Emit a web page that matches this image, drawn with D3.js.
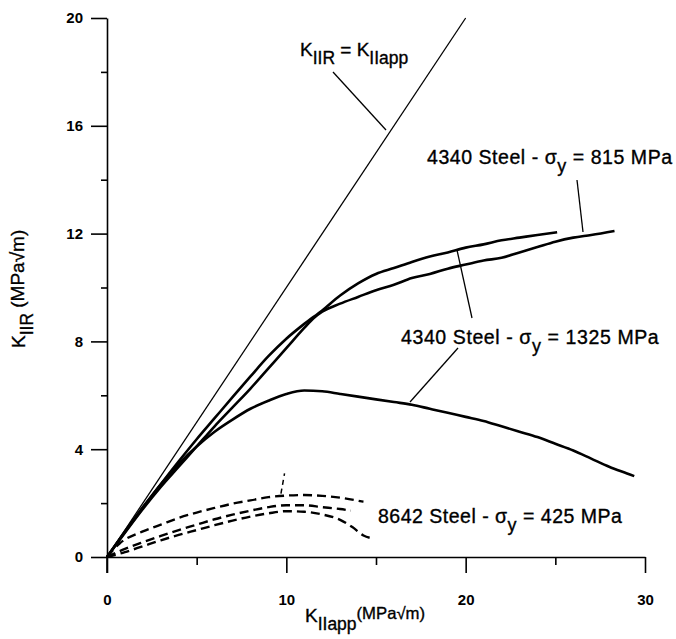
<!DOCTYPE html>
<html><head><meta charset="utf-8">
<script src="https://cdn.jsdelivr.net/npm/d3@7"></script>
<style>
html,body{margin:0;padding:0;background:#fff;}
svg{display:block;}
text{font-family:"Liberation Sans",Arial,Helvetica,sans-serif;fill:#000;}
</style></head>
<body>
<script>
// ---- data ----
const xTicksMajor = [0, 10, 20, 30];
const xTicksMinor = [5, 15, 25];
const yTicksMajor = [0, 4, 8, 12, 16, 20];
const yTicksMinor = [2, 6, 10, 14, 18];

const equalityLine = [[0, 0], [20, 20]];

const steel4340_815 = [[0,0],[1,0.9],[2,1.78],[3,2.6],[4,3.35],[5,4.1],[6,4.85],[7,5.55],[8,6.25],[9,7.0],[10,7.75],[11,8.5],[11.5,8.85],[12,9.1],[13,9.4],[14,9.65],[15,9.9],[16,10.1],[17,10.35],[18,10.5],[19,10.7],[20,10.85],[21,11.0],[22,11.1],[23,11.3],[24,11.5],[25,11.7],[26,11.85],[27,11.95],[28.3,12.1]];

const steel4340_1325a = [[0,0],[1,0.93],[2,1.82],[3,2.7],[4,3.55],[5,4.37],[6,5.15],[7,5.93],[8,6.7],[9,7.45],[10,8.1],[11,8.65],[12,9.15],[13,9.7],[14,10.15],[15,10.5],[16,10.72],[17,10.95],[18,11.15],[19,11.3],[20,11.48],[21,11.6],[22,11.75],[23,11.85],[24,11.95],[25.1,12.05]];

const steel4340_1325b = [[0,0],[1,0.95],[2,1.85],[3,2.7],[4,3.45],[5,4.1],[6,4.65],[7,5.1],[8,5.5],[9,5.8],[10,6.05],[11,6.18],[12,6.15],[13,6.05],[14,5.95],[15,5.85],[16,5.75],[17,5.65],[18,5.5],[19,5.35],[20,5.2],[21,5.05],[22,4.85],[23,4.65],[24,4.45],[25,4.2],[26,3.95],[27,3.65],[28,3.35],[29,3.1],[29.4,3.0]];

const steel8642_a = [[0,0],[0.7,0.5],[2,0.95],[3,1.2],[4,1.45],[5,1.65],[6,1.82],[7,1.98],[8,2.1],[9,2.22],[10,2.28],[11,2.3],[12,2.27],[13,2.2],[14.3,2.05]];
const steel8642_b = [[0,0],[1,0.3],[2,0.55],[3,0.78],[4,1.0],[5,1.2],[6,1.4],[7,1.57],[8,1.72],[9,1.85],[10,1.92],[11,1.92],[12,1.85],[13,1.78],[13.6,1.72]];
const steel8642_c = [[0,0],[1,0.18],[2,0.4],[3,0.62],[4,0.82],[5,1.0],[6,1.18],[7,1.35],[8,1.5],[9,1.62],[10,1.7],[11,1.68],[12,1.58],[13,1.38],[13.7,1.1],[14.3,0.8],[14.9,0.68]];
const marker8642 = [[9.7, 2.35], [9.9, 3.1]];

// ---- drawing ----
const W = 676, H = 639;
const svg = d3.select("body").append("svg").attr("width", W).attr("height", H);
const x = d3.scaleLinear().domain([0, 30]).range([107, 645]);
const y = d3.scaleLinear().domain([0, 20]).range([557, 18]);

function axisStyle(g){
  g.select(".domain").attr("stroke","#000").attr("stroke-width",1.6);
  g.selectAll(".tick line").attr("stroke","#000").attr("stroke-width",1.6);
}

// y axis
const gy = svg.append("g").attr("transform", `translate(${x(0)},0)`)
  .call(d3.axisLeft(y).tickValues(yTicksMajor).tickSize(16).tickSizeOuter(0).tickPadding(8).tickFormat(d3.format("d")));
axisStyle(gy);
gy.selectAll(".tick text").attr("font-size",15).attr("font-weight","bold").attr("font-family","Liberation Sans, Arial, sans-serif");
const gy2 = svg.append("g").attr("transform", `translate(${x(0)},0)`)
  .call(d3.axisLeft(y).tickValues(yTicksMinor).tickSize(6).tickFormat(""));
gy2.select(".domain").remove();
axisStyle(gy2);
svg.append("line").attr("x1",x(0)).attr("x2",x(0)).attr("y1",y(0)).attr("y2",y(0)+16).attr("stroke","#000").attr("stroke-width",1.6);

// x axis
const gx = svg.append("g").attr("transform", `translate(0,${y(0)})`)
  .call(d3.axisBottom(x).tickValues(xTicksMajor).tickSize(16).tickSizeOuter(0).tickPadding(21).tickFormat(d3.format("d")));
axisStyle(gx);
gx.selectAll(".tick text").attr("font-size",15).attr("font-weight","bold").attr("font-family","Liberation Sans, Arial, sans-serif");
const gx2 = svg.append("g").attr("transform", `translate(0,${y(0)})`)
  .call(d3.axisBottom(x).tickValues(xTicksMinor).tickSize(8).tickFormat(""));
gx2.select(".domain").remove();
axisStyle(gx2);

const line = d3.line().x(d => x(d[0])).y(d => y(d[1])).curve(d3.curveMonotoneX);
const straight = d3.line().x(d => x(d[0])).y(d => y(d[1]));

svg.append("path").attr("d", straight(equalityLine)).attr("fill","none").attr("stroke","#000").attr("stroke-width",1.3);
[steel4340_815, steel4340_1325a, steel4340_1325b].forEach(s => {
  svg.append("path").attr("d", line(s)).attr("fill","none").attr("stroke","#000").attr("stroke-width",2.6).attr("stroke-linejoin","round");
});
[steel8642_a, steel8642_b, steel8642_c].forEach(s => {
  svg.append("path").attr("d", line(s)).attr("fill","none").attr("stroke","#000").attr("stroke-width",2.4).attr("stroke-dasharray","9,5");
});
svg.append("path").attr("d", straight(marker8642)).attr("fill","none").attr("stroke","#000").attr("stroke-width",1.5).attr("stroke-dasharray","5,4");

// leader lines
const leaders = [
  [[333,72],[386,130]],
  [[577,180],[583,232]],
  [[472,318],[457,250]],
  [[458,348],[410,402]]
];
leaders.forEach(l => svg.append("line").attr("x1",l[0][0]).attr("y1",l[0][1]).attr("x2",l[1][0]).attr("y2",l[1][1]).attr("stroke","#000").attr("stroke-width",1.3));

// rich text helper
function rich(g, px, py, parts, size, opts){
  opts = opts || {};
  const t = g.append("text").attr("x",px).attr("y",py).attr("font-size",size)
    .attr("letter-spacing", opts.ls || 0)
    .attr("stroke","#000").attr("stroke-width",0.35);
  let cur = 0;
  parts.forEach(([s,k]) => {
    let off = 0, fs = size;
    if (k === "s") { off = size*0.4; fs = size*0.92; }
    else if (k === "u") { off = -size*(opts.up || 0.18); fs = size*(opts.us || 0.88); }
    t.append("tspan").attr("dy", off - cur).attr("font-size", fs).text(s);
    cur = off;
  });
  return t;
}

rich(svg, 300, 56, [["K","n"],["IIR","s"],[" = K","n"],["IIapp","s"]], 19);
rich(svg, 427, 164, [["4340 Steel - σ","n"],["y","s"],[" = 815 MPa","n"]], 19.5, {ls:0.55});
rich(svg, 401, 344, [["4340 Steel - σ","n"],["y","s"],[" = 1325 MPa","n"]], 19.5, {ls:0.6});
rich(svg, 378, 523, [["8642 Steel - σ","n"],["y","s"],[" = 425 MPa","n"]], 19.5, {ls:0.5});

// axis titles
rich(svg, 305, 622, [["K","n"],["IIapp","s"],["(MPa√m)","u"]], 19);
const yl = svg.append("g").attr("transform","translate(25,348) rotate(-90)");
rich(yl, 0, 0, [["K","n"],["IIR","s"],[" (MPa√m)","u"]], 19, {us:1.0, up:0.05});
</script>
</body></html>
